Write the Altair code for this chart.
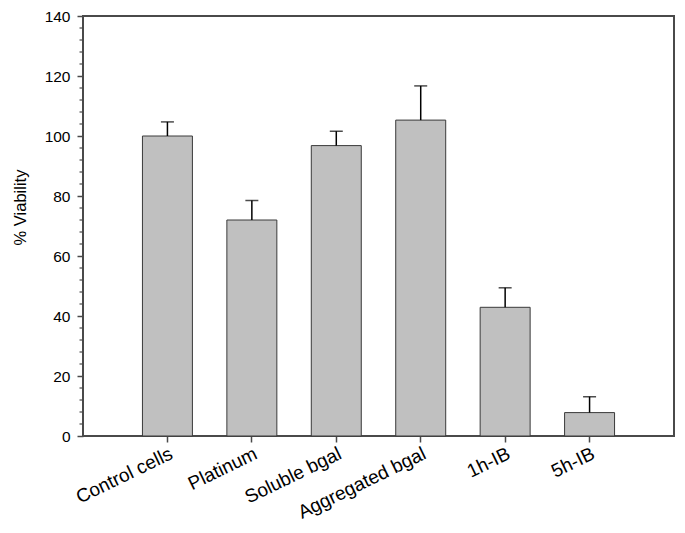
import altair as alt
import pandas as pd

categories = ["Control cells", "Platinum", "Soluble bgal", "Aggregated bgal", "1h-IB", "5h-IB"]
means = [100.0, 72.0, 96.8, 105.3, 42.9, 7.8]
errors = [4.7, 6.5, 4.8, 11.4, 6.5, 5.3]
y_major = list(range(0, 141, 20))
y_minor = [v for v in range(0, 141, 4) if v % 20 != 0]

df = pd.DataFrame({"cat": categories, "mean": means, "err": errors})
df["upper"] = df["mean"] + df["err"]
minor_df = pd.DataFrame({"v": y_minor})

FONT = "Liberation Sans"
AX = "#4a4a4a"

x_enc = alt.X(
    "cat:N",
    sort=categories,
    scale=alt.Scale(paddingInner=0.408, paddingOuter=0.704),
    axis=alt.Axis(
        title=None, labelAngle=-26, labelFontSize=19, labelFont=FONT, labelColor="black",
        tickSize=6, tickColor=AX, tickWidth=1.5, domain=False, labelPadding=2,
        labelAlign="right", labelBaseline="top", labelOverlap=False, labelLimit=0,
    ),
)
y_scale = alt.Scale(domain=[0, 140], nice=False)

bars = alt.Chart(df).mark_bar(fill="#c0c0c0", stroke="#3a3a3a", strokeWidth=1).encode(
    x=x_enc,
    y=alt.Y(
        "mean:Q",
        scale=y_scale,
        axis=alt.Axis(
            title="% Viability", values=y_major, tickSize=6, tickColor=AX, tickWidth=1.5,
            domain=False, grid=False, labelFontSize=15.5, labelFont=FONT, labelOverlap=False,
            labelColor="black", labelPadding=7, titleFont=FONT, titleFontSize=16.5,
            titleFontWeight="normal", titleColor="black", titleX=-55, titleY=191,
            titleAngle=-90, titleBaseline="bottom", titleAlign="center",
        ),
    ),
)

minor = alt.Chart(minor_df).mark_rule(color=AX, strokeWidth=1.2).encode(
    y=alt.Y("v:Q", scale=y_scale), x=alt.value(-3.5), x2=alt.value(0)
)

rules = alt.Chart(df).mark_rule(color="black", strokeWidth=1.5).encode(
    x=alt.X("cat:N", sort=categories), y="mean:Q", y2="upper:Q"
)
caps = alt.Chart(df).mark_tick(color="black", size=13, thickness=1.5).encode(
    x=alt.X("cat:N", sort=categories), y="upper:Q"
)

chart = (
    alt.layer(bars, minor, rules, caps)
    .properties(
        width=591, height=420,
        autosize=alt.AutoSizeParams(type="none"),
        padding={"left": 75, "top": 8, "right": 3, "bottom": 89},
        background="white",
    )
    .configure_view(stroke=AX, strokeWidth=2)
)

chart.save("out.html", embed_options={"renderer": "svg", "actions": False})
